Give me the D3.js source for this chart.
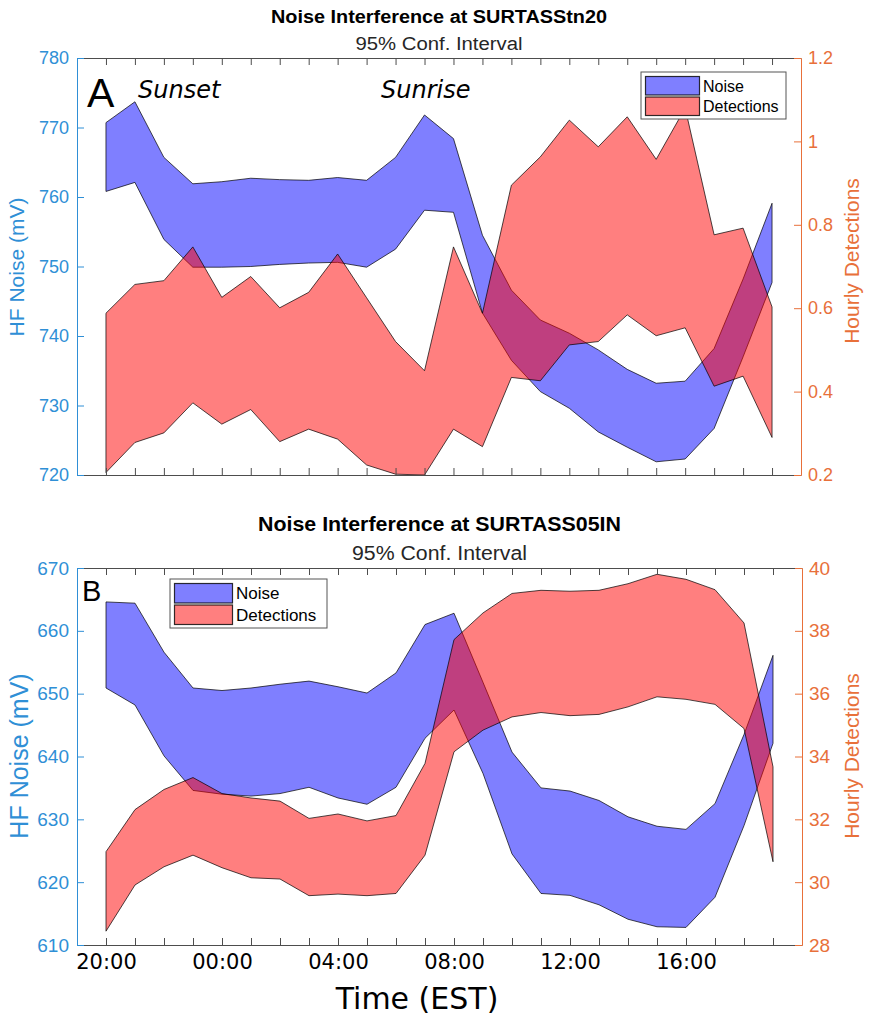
<!DOCTYPE html>
<html>
<head>
<meta charset="utf-8">
<script src="https://cdn.jsdelivr.net/npm/d3@7"></script>
<style>
  body { margin: 0; background: #fff; }
  svg { display: block; }
</style>
</head>
<body>
<svg id="fig" width="870" height="1019"></svg>
<script>
// Hourly bins, 20:00 through 19:00 the next day
const hours = ["20:00","21:00","22:00","23:00","00:00","01:00","02:00","03:00",
               "04:00","05:00","06:00","07:00","08:00","09:00","10:00","11:00",
               "12:00","13:00","14:00","15:00","16:00","17:00","18:00","19:00"];
const xTickLabels = ["20:00","00:00","04:00","08:00","12:00","16:00"];

// SURTASStn20 — HF noise 95% CI (mV)
const stn20NoiseUpper = [770.7,773.7,765.7,761.9,762.2,762.7,762.5,762.4,762.8,762.4,765.7,771.8,
                         768.4,754.5,746.6,742.3,740.4,738.0,735.2,733.2,733.5,738.2,748.2,759.1];
const stn20NoiseLower = [760.8,762.1,753.9,749.9,749.9,750.0,750.3,750.5,750.6,749.9,752.5,758.1,
                         757.8,743.3,736.5,732.0,729.6,726.2,724.0,721.9,722.3,726.7,737.0,747.7];
// SURTASStn20 — hourly detections 95% CI
const stn20DetUpper = [0.588,0.657,0.666,0.747,0.626,0.676,0.601,0.638,0.730,0.625,0.520,0.450,
                       0.747,0.588,0.895,0.963,1.051,0.987,1.059,0.957,1.080,0.776,0.792,0.603];
const stn20DetLower = [0.206,0.278,0.301,0.373,0.322,0.357,0.280,0.310,0.286,0.224,0.202,0.200,
                       0.310,0.268,0.434,0.426,0.512,0.520,0.584,0.534,0.553,0.413,0.437,0.290];

// SURTASS05IN — HF noise 95% CI (mV)
const s05NoiseUpper = [664.6,664.4,656.6,650.9,650.5,650.9,651.5,652.0,651.1,650.1,653.3,661.0,
                       662.8,651.8,640.7,635.0,634.5,633.0,630.4,628.9,628.4,632.5,643.5,656.1];
const s05NoiseLower = [650.9,648.2,640.1,634.6,634.0,633.7,634.1,635.1,633.4,632.4,635.1,642.9,
                       647.4,637.3,624.5,618.2,617.9,616.4,614.1,612.9,612.8,617.6,629.0,642.1];
// SURTASS05IN — hourly detections 95% CI
const s05DetUpper = [30.97,32.31,32.95,33.33,32.82,32.68,32.58,32.03,32.17,31.95,32.12,33.78,
                     37.72,38.57,39.19,39.29,39.26,39.29,39.50,39.80,39.64,39.31,38.25,33.67];
const s05DetLower = [28.44,29.91,30.49,30.86,30.46,30.14,30.10,29.57,29.62,29.57,29.64,30.86,
                     34.15,34.84,35.26,35.40,35.30,35.34,35.58,35.90,35.82,35.66,34.89,30.65];

const stn20NoiseTicks = [720,730,740,750,760,770,780];
const stn20DetTicks = [0.2,0.4,0.6,0.8,1.0,1.2];
const s05NoiseTicks = [610,620,630,640,650,660,670];
const s05DetTicks = [28,30,32,34,36,38,40];

const leftColor = "#2f8fd6";
const rightColor = "#e8703a";
const boxColor = "#4d4d4d";
const noiseFill = "#0000ff";
const detFill = "#ff0000";
const SANS = "'Liberation Sans', Arial, Helvetica, sans-serif";
const VERD = "'DejaVu Sans', Verdana, sans-serif";

const svg = d3.select("#fig");

const panels = [
  {
    id: "A", title: "Noise Interference at SURTASStn20", sub: "95% Conf. Interval",
    left: 77, right: 801, top: 58, bottom: 475,
    noiseUpper: stn20NoiseUpper, noiseLower: stn20NoiseLower,
    detUpper: stn20DetUpper, detLower: stn20DetLower,
    noiseDomain: [720, 780], detDomain: [0.2, 1.2],
    noiseTicks: stn20NoiseTicks, detTicks: stn20DetTicks,
    titleSize: 18, titleLen: 336, titleY: 23, subSize: 18, subLen: 167, subY: 50, tickSize: 18,
    leftLabelSize: 21, leftLabelX: 24, leftLabelY: 267, rightLabelY: 261,
    legend: { x: 641, y: 72, w: 145, h: 47, sw: 54, font: 16 },
    letterSize: 41, letterX: 87, letterY: 107,
    showX: false
  },
  {
    id: "B", title: "Noise Interference at SURTASS05IN", sub: "95% Conf. Interval",
    left: 77, right: 802, top: 568, bottom: 945,
    noiseUpper: s05NoiseUpper, noiseLower: s05NoiseLower,
    detUpper: s05DetUpper, detLower: s05DetLower,
    noiseDomain: [610, 670], detDomain: [28, 40],
    noiseTicks: s05NoiseTicks, detTicks: s05DetTicks,
    titleSize: 21, titleLen: 363, titleY: 531, subSize: 20, subLen: 175, subY: 560, tickSize: 19,
    leftLabelSize: 25, leftLabelX: 28, leftLabelY: 756, rightLabelY: 756,
    legend: { x: 170, y: 579, w: 157, h: 49, sw: 58, font: 17 },
    letterSize: 29, letterX: 82, letterY: 601,
    showX: true
  }
];

panels.forEach((p, k) => {
  const g = svg.append("g");
  const x = d3.scaleLinear().domain([-1, hours.length]).range([p.left, p.right]);
  const yL = d3.scaleLinear().domain(p.noiseDomain).range([p.bottom, p.top]);
  const yR = d3.scaleLinear().domain(p.detDomain).range([p.bottom, p.top]);
  const cx = (p.left + p.right) / 2;

  // titles
  g.append("text").attr("x", cx).attr("y", p.titleY).attr("text-anchor", "middle")
    .attr("font-family", SANS).attr("font-weight", "bold").attr("font-size", p.titleSize)
    .attr("textLength", p.titleLen).attr("lengthAdjust", "spacingAndGlyphs")
    .attr("fill", "#000").text(p.title);
  g.append("text").attr("x", cx).attr("y", p.subY).attr("text-anchor", "middle")
    .attr("font-family", SANS).attr("font-size", p.subSize)
    .attr("textLength", p.subLen).attr("lengthAdjust", "spacingAndGlyphs")
    .attr("fill", "#262626").text(p.sub);

  // clip to the plot box
  const clipId = "clip" + k;
  g.append("clipPath").attr("id", clipId).append("rect")
    .attr("x", p.left).attr("y", p.top)
    .attr("width", p.right - p.left).attr("height", p.bottom - p.top);

  const plot = g.append("g").attr("clip-path", `url(#${clipId})`);

  const noiseArea = d3.area()
    .x((d, i) => x(i))
    .y0((d, i) => yL(p.noiseLower[i]))
    .y1((d, i) => yL(p.noiseUpper[i]));
  const detArea = d3.area()
    .x((d, i) => x(i))
    .y0((d, i) => yR(p.detLower[i]))
    .y1((d, i) => yR(p.detUpper[i]));

  plot.append("path").datum(hours).attr("d", noiseArea)
    .attr("fill", noiseFill).attr("fill-opacity", 0.5)
    .attr("stroke", "#000").attr("stroke-opacity", 0.7).attr("stroke-width", 1);
  plot.append("path").datum(hours).attr("d", detArea)
    .attr("fill", detFill).attr("fill-opacity", 0.5)
    .attr("stroke", "#000").attr("stroke-opacity", 0.7).attr("stroke-width", 1);

  // x axes (bottom and mirrored top), ticks pointing inward
  const tickIdx = d3.range(hours.length);
  const labelAt = i => (p.showX && xTickLabels.includes(hours[i])) ? hours[i] : "";
  const xb = g.append("g").attr("transform", `translate(0,${p.bottom})`)
    .call(d3.axisBottom(x).tickValues(tickIdx).tickSize(-7).tickSizeOuter(0)
      .tickPadding(12).tickFormat(labelAt));
  const xt = g.append("g").attr("transform", `translate(0,${p.top})`)
    .call(d3.axisTop(x).tickValues(tickIdx).tickSize(-7).tickSizeOuter(0).tickFormat(""));
  [xb, xt].forEach(a => {
    a.select(".domain").attr("stroke", boxColor);
    a.selectAll(".tick line").attr("stroke", boxColor);
  });
  xb.selectAll(".tick text").attr("font-family", VERD).attr("font-size", 21)
    .attr("fill", "#000").attr("dy", "0.55em");

  // left axis (noise)
  const al = g.append("g").attr("transform", `translate(${p.left},0)`)
    .call(d3.axisLeft(yL).tickValues(p.noiseTicks).tickSize(-7).tickSizeOuter(0)
      .tickPadding(8).tickFormat(d3.format("d")));
  al.select(".domain").attr("stroke", leftColor);
  al.selectAll(".tick line").attr("stroke", leftColor);
  al.selectAll(".tick text").attr("fill", leftColor).attr("font-family", SANS)
    .attr("font-size", p.tickSize);

  // right axis (detections)
  const ar = g.append("g").attr("transform", `translate(${p.right},0)`)
    .call(d3.axisRight(yR).tickValues(p.detTicks).tickSize(-7).tickSizeOuter(0)
      .tickPadding(7).tickFormat(d => String(+d.toFixed(1))));
  ar.select(".domain").attr("stroke", rightColor);
  ar.selectAll(".tick line").attr("stroke", rightColor);
  ar.selectAll(".tick text").attr("fill", rightColor).attr("font-family", SANS)
    .attr("font-size", p.tickSize);

  // axis titles
  g.append("text").attr("transform", `translate(${p.leftLabelX},${p.leftLabelY}) rotate(-90)`)
    .attr("text-anchor", "middle").attr("font-family", SANS).attr("font-size", p.leftLabelSize)
    .attr("fill", leftColor).text("HF Noise (mV)");
  g.append("text").attr("transform", `translate(859,${p.rightLabelY}) rotate(-90)`)
    .attr("text-anchor", "middle").attr("font-family", SANS).attr("font-size", 21)
    .attr("fill", rightColor).text("Hourly Detections");

  // legend
  const L = p.legend;
  const lg = g.append("g");
  lg.append("rect").attr("x", L.x).attr("y", L.y).attr("width", L.w).attr("height", L.h)
    .attr("fill", "#fff").attr("stroke", "#555").attr("stroke-width", 1);
  const rowH = (L.h - 8) / 2;
  [["Noise", noiseFill], ["Detections", detFill]].forEach(([name, col], r) => {
    const ry = L.y + 4 + r * (rowH + 1);
    lg.append("rect").attr("x", L.x + 4.5).attr("y", ry + 0.5)
      .attr("width", L.sw).attr("height", rowH - 1)
      .attr("fill", col).attr("fill-opacity", 0.5)
      .attr("stroke", "#000").attr("stroke-opacity", 0.8).attr("stroke-width", 1.2);
    lg.append("text").attr("x", L.x + L.sw + 8).attr("y", ry + rowH / 2)
      .attr("dy", "0.36em").attr("font-family", SANS).attr("font-size", L.font)
      .attr("fill", "#000").text(name);
  });

  // panel letter
  g.append("text").attr("x", p.letterX).attr("y", p.letterY)
    .attr("font-family", SANS).attr("font-size", p.letterSize).attr("fill", "#000")
    .text(p.id);
});

// day/night markers on the upper panel
svg.append("text").attr("x", 138).attr("y", 98).attr("font-family", VERD)
  .attr("font-style", "italic").attr("font-size", 24).attr("fill", "#000").text("Sunset");
svg.append("text").attr("x", 381).attr("y", 98).attr("font-family", VERD)
  .attr("font-style", "italic").attr("font-size", 24).attr("fill", "#000").text("Sunrise");

// shared x-axis title
svg.append("text").attr("x", 417).attr("y", 1009).attr("text-anchor", "middle")
  .attr("font-family", VERD).attr("font-size", 30).attr("fill", "#000").text("Time (EST)");
</script>
</body>
</html>
